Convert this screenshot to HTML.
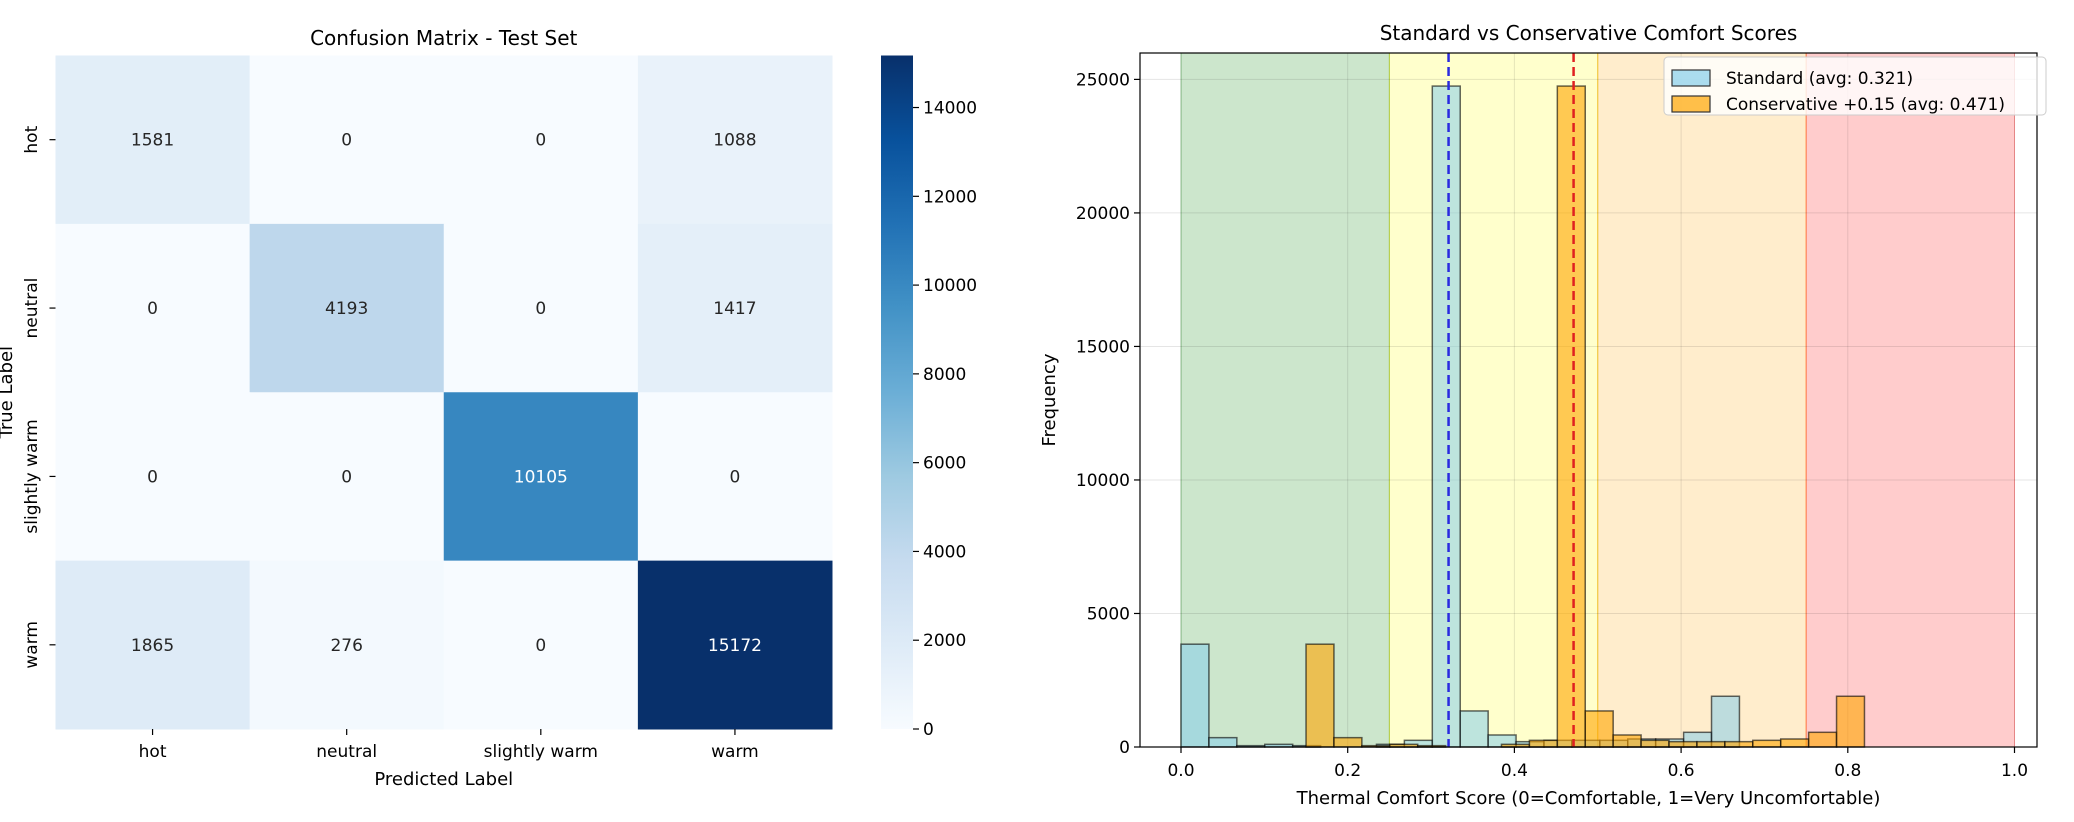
<!DOCTYPE html>
<html><head><meta charset="utf-8"><style>
html,body{margin:0;padding:0;background:#fff;overflow:hidden}
svg{display:block;font-family:"DejaVu Sans","Liberation Sans",sans-serif}
</style></head><body>
<svg id="fig" width="2074" height="822" viewBox="0 0 2074 822">
<g id="left"></g>
<g id="right"></g>
</svg>
<script>
// ---- Confusion matrix data ----
const cmLabels = ["hot","neutral","slightly warm","warm"];
const cmRow0 = [1581,0,0,1088];
const cmRow1 = [0,4193,0,1417];
const cmRow2 = [0,0,10105,0];
const cmRow3 = [1865,276,0,15172];
const cbTicks = [0,2000,4000,6000,8000,10000,12000,14000];

// ---- Histogram data ----
const binWidth = 0.0335;
const stdStart = 0.0;
const stdCounts = [3850,350,50,100,50,0,0,100,250,24750,1350,450,200,250,250,250,300,300,550,1900];
const consStart = 0.15;
const consCounts = [3850,350,50,100,50,0,0,100,250,24750,1350,450,250,200,200,200,250,300,550,1900];
const stdAvg = 0.321;
const consAvg = 0.471;
const xTicks = [0.0,0.2,0.4,0.6,0.8,1.0];
const yTicks = [0,5000,10000,15000,20000,25000];
const zoneEdges = [0,0.25,0.5,0.75,1.0];
const zoneColors = ["green","yellow","orange","red"];

const NS="http://www.w3.org/2000/svg";
function mk(parent,tag,attrs,text){const e=document.createElementNS(NS,tag);for(const k in attrs)e.setAttribute(k,attrs[k]);if(text!==undefined)e.textContent=text;parent.appendChild(e);return e;}

const blues=[[247,251,255],[222,235,247],[198,219,239],[158,202,225],[107,174,214],[66,146,198],[33,113,181],[8,81,156],[8,48,107]];
function bluesColor(t){t=Math.max(0,Math.min(1,t));const p=t*8,i=Math.min(7,Math.floor(p)),f=p-i;const a=blues[i],b=blues[i+1];return `rgb(${a.map((v,k)=>Math.round(v+(b[k]-v)*f)).join(",")})`;}

// ---- Left chart ----
const L=document.getElementById('left');
const hx0=55.5,hx1=832,hy0=55.5,hy1=729;
const cw=(hx1-hx0)/4,ch=(hy1-hy0)/4;
const rows=[cmRow0,cmRow1,cmRow2,cmRow3];
const vmax=Math.max(...rows.flat());
const t1=mk(L,'text',{x:(hx0+hx1)/2,y:45,'text-anchor':'middle','font-size':20,fill:'#000'},'Confusion Matrix - Test Set');

rows.forEach((row,r)=>row.forEach((v,c)=>{
  const rect=mk(L,'rect',{x:hx0+c*cw,y:hy0+r*ch,width:cw+0.5,height:ch+0.5,fill:bluesColor(v/vmax)});
  
  
  const tx=mk(L,'text',{x:hx0+(c+0.5)*cw,y:hy0+(r+0.5)*ch+6,'text-anchor':'middle','font-size':17,fill:v/vmax>0.5?'#fff':'#262626'},String(v));
  
  
}));
cmLabels.forEach((lab,i)=>{
  const x=hx0+(i+0.5)*cw;
  mk(L,'line',{x1:x,y1:hy1,x2:x,y2:hy1+6,stroke:'#000','stroke-width':1.2});
  const t=mk(L,'text',{x:x,y:757,'text-anchor':'middle','font-size':17,fill:'#000'},lab);
  
  const y=hy0+(i+0.5)*ch;
  mk(L,'line',{x1:hx0-6,y1:y,x2:hx0,y2:y,stroke:'#000','stroke-width':1.2});
  const t2=mk(L,'text',{x:0,y:0,'text-anchor':'middle','font-size':17,fill:'#000',transform:`translate(37,${y}) rotate(-90)`},lab);
  
});
const xl=mk(L,'text',{x:(hx0+hx1)/2,y:785,'text-anchor':'middle','font-size':18,fill:'#000'},'Predicted Label');

const yl=mk(L,'text',{x:0,y:0,'text-anchor':'middle','font-size':18,fill:'#000',transform:`translate(12,${(hy0+hy1)/2}) rotate(-90)`},'True Label');

const cbx=881,cbw=32;
const defs=mk(L,'defs',{});
const grad=mk(defs,'linearGradient',{id:'cbg',x1:0,y1:1,x2:0,y2:0});
blues.forEach((c,i)=>mk(grad,'stop',{offset:i/8,'stop-color':`rgb(${c.join(',')})`}));
const cb=mk(L,'rect',{x:cbx,y:hy0,width:cbw,height:hy1-hy0,fill:'url(#cbg)'});

cbTicks.forEach(v=>{
  const y=hy1-(v/vmax)*(hy1-hy0);
  mk(L,'line',{x1:cbx+cbw,y1:y,x2:cbx+cbw+6,y2:y,stroke:'#000','stroke-width':1.2});
  const t=mk(L,'text',{x:cbx+cbw+10,y:y+6,'font-size':17,fill:'#000'},String(v));
  
});

// ---- Right chart ----
const R=document.getElementById('right');
const ax0=1140,ax1=2037,ay0=53,ay1=747;
const X0=1181,X1=2014.5;
const sx=v=>X0+(X1-X0)*v;
const yPer=(747-79.4)/25000;
const sy=v=>ay1-v*yPer;
const zc={green:'rgba(0,128,0,0.2)',yellow:'rgba(255,255,0,0.2)',orange:'rgba(255,165,0,0.2)',red:'rgba(255,0,0,0.2)'};
const zs={green:'rgba(0,128,0,0.35)',yellow:'rgba(200,200,0,0.5)',orange:'rgba(255,165,0,0.5)',red:'rgba(255,0,0,0.35)'};
for(let i=0;i<4;i++){
  const z=mk(R,'rect',{x:sx(zoneEdges[i]),y:ay0,width:sx(zoneEdges[i+1])-sx(zoneEdges[i]),height:ay1-ay0,fill:zc[zoneColors[i]],stroke:zs[zoneColors[i]],'stroke-width':1});
  
}
xTicks.forEach(v=>mk(R,'line',{x1:sx(v),y1:ay0,x2:sx(v),y2:ay1,stroke:'rgba(0,0,0,0.1)','stroke-width':1}));
yTicks.forEach(v=>mk(R,'line',{x1:ax0,y1:sy(v),x2:ax1,y2:sy(v),stroke:'rgba(0,0,0,0.1)','stroke-width':1}));
function drawBars(start,counts,fill,name){
  counts.forEach((c,i)=>{
    if(c<=0)return;
    const x=sx(start+i*binWidth),w=sx(start+(i+1)*binWidth)-x;
    const b=mk(R,'rect',{x:x,y:sy(c),width:w,height:ay1-sy(c),fill:fill,stroke:'rgba(0,0,0,0.6)','stroke-width':1.5});
    
    
  });
}
drawBars(stdStart,stdCounts,'rgba(135,206,235,0.55)','standard-bar');
drawBars(consStart,consCounts,'rgba(255,165,0,0.6)','conservative-bar');
const l1=mk(R,'line',{x1:sx(stdAvg),y1:ay0,x2:sx(stdAvg),y2:ay1,stroke:'#2a2ae0','stroke-width':2.5,'stroke-dasharray':'9,5'});

const l2=mk(R,'line',{x1:sx(consAvg),y1:ay0,x2:sx(consAvg),y2:ay1,stroke:'#e02020','stroke-width':2.5,'stroke-dasharray':'9,5'});

const fr=mk(R,'rect',{x:ax0,y:ay0,width:ax1-ax0,height:ay1-ay0,fill:'none',stroke:'#000','stroke-width':1.2});

xTicks.forEach(v=>{
  mk(R,'line',{x1:sx(v),y1:ay1,x2:sx(v),y2:ay1+6,stroke:'#000','stroke-width':1.2});
  const t=mk(R,'text',{x:sx(v),y:776,'text-anchor':'middle','font-size':17,fill:'#000'},v.toFixed(1));
  
});
yTicks.forEach(v=>{
  mk(R,'line',{x1:ax0-6,y1:sy(v),x2:ax0,y2:sy(v),stroke:'#000','stroke-width':1.2});
  const t=mk(R,'text',{x:ax0-10,y:sy(v)+6,'text-anchor':'end','font-size':17,fill:'#000'},String(v));
  
});
const rt=mk(R,'text',{x:(ax0+ax1)/2,y:40,'text-anchor':'middle','font-size':20,fill:'#000'},'Standard vs Conservative Comfort Scores');

const rx=mk(R,'text',{x:(ax0+ax1)/2,y:804,'text-anchor':'middle','font-size':18,fill:'#000'},'Thermal Comfort Score (0=Comfortable, 1=Very Uncomfortable)');

const ry=mk(R,'text',{x:0,y:0,'text-anchor':'middle','font-size':18,fill:'#000',transform:`translate(1055,${(ay0+ay1)/2}) rotate(-90)`},'Frequency');

const lg=mk(R,'g',{});

mk(lg,'rect',{x:1664,y:57,width:382,height:58,rx:4,fill:'rgba(255,255,255,0.8)',stroke:'#ccc'});
const e1=mk(lg,'rect',{x:1672,y:70,width:38,height:16,fill:'rgba(135,206,235,0.7)',stroke:'#333','stroke-width':1.2});

mk(lg,'text',{x:1726,y:84,'font-size':17,fill:'#000'},'Standard (avg: 0.321)');
const e2=mk(lg,'rect',{x:1672,y:96,width:38,height:16,fill:'rgba(255,165,0,0.7)',stroke:'#333','stroke-width':1.2});

mk(lg,'text',{x:1726,y:110,'font-size':17,fill:'#000'},'Conservative +0.15 (avg: 0.471)');
</script>
</body></html>
